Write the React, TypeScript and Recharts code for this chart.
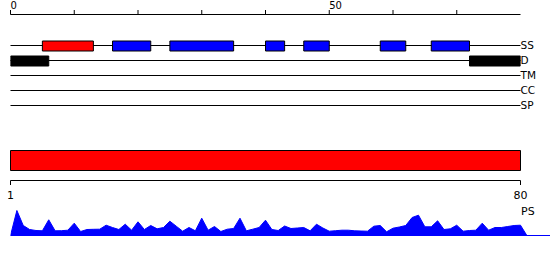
import React from 'react';
import { ComposedChart, BarChart, AreaChart, Bar, Area, XAxis, YAxis, ReferenceLine, Cell, Customized } from 'recharts';

const trackNames = ['SS', 'D', 'TM', 'CC', 'SP'];
const ssStarts = [5, 16, 25, 40, 46, 58, 66];
const ssEnds = [13, 22, 35, 43, 50, 62, 72];
const ssKinds = ['helix', 'strand', 'strand', 'strand', 'strand', 'strand', 'strand'];
const ssColors: Record<string, string> = { helix: '#ff0000', strand: '#0000ff' };
const disorderStarts = [0, 72];
const disorderEnds = [6, 80];
const disorderColor = '#000000';
const topTicks = [0, 10, 20, 30, 40, 50, 60, 70];
const topLabelled = [0, 50];
const seqStart = 1;
const seqEnd = 80;
const bottomTicks = [1, 80];
const psLabel = 'PS';
const psValues = [
  0, 25, 10, 6, 5, 4.7, 15.7, 4.7, 4.8, 5.3,
  12.3, 4, 6, 6.2, 6.3, 10.3, 8, 6, 11.3, 5.3,
  13.7, 6, 10, 6.7, 8, 14.3, 9.3, 4.3, 8, 4.7,
  17.3, 5.3, 9, 4, 6.3, 7, 17.3, 4.7, 6.3, 8,
  15.3, 6, 5, 9.5, 7, 7.5, 8, 4.7, 11.3, 7.5,
  4.3, 4.8, 5.3, 5.3, 4.7, 4.5, 4.3, 9.3, 10, 3.7,
  7.3, 8.5, 10, 18, 20.3, 8.7, 8.7, 14.7, 6, 6.7,
  10.3, 4.3, 5, 5.3, 12.3, 5.3, 8, 8, 9, 10,
  10.3, 0,
];

const FONT = 'DejaVu Sans, Verdana, sans-serif';
const MAXSEG = 7;

function buildRow(name: string, starts: number[], ends: number[], colors: string[]) {
  const row: any = { track: name };
  let pos = 0;
  for (let k = 0; k < MAXSEG; k++) {
    if (k < starts.length) {
      row['g' + k] = starts[k] - pos;
      row['s' + k] = ends[k] - starts[k];
      row['c' + k] = colors[k];
      pos = ends[k];
    } else {
      row['g' + k] = 0;
      row['s' + k] = 0;
      row['c' + k] = 'none';
    }
  }
  return row;
}

const trackRows = trackNames.map((name) => {
  if (name === 'SS') return buildRow(name, ssStarts, ssEnds, ssKinds.map((k) => ssColors[k]));
  if (name === 'D') return buildRow(name, disorderStarts, disorderEnds, disorderStarts.map(() => disorderColor));
  return buildRow(name, [], [], []);
});

const seqRows = [{ name: 'sequence', range: [seqStart, seqEnd] }];
const psData = psValues.map((v, i) => ({ pos: i, ps: v }));

const TopTick = (props: any) => {
  const { x, y, payload } = props;
  if (!topLabelled.includes(payload.value)) return null;
  return (
    <text x={x} y={y - 1} textAnchor="start" fontSize={10} fontFamily={FONT} fill="#000">
      {payload.value}
    </text>
  );
};

const TrackTick = (props: any) => {
  const { x, y, payload } = props;
  return (
    <text x={x} y={y} dy="0.36em" textAnchor="start" fontSize={10.5} fontFamily={FONT} fill="#000">
      {payload.value}
    </text>
  );
};

const segIdx = Array.from({ length: MAXSEG }, (_, k) => k);

export default function App() {
  return (
    <div style={{ position: 'absolute', left: 0, top: 0, width: 550, height: 260, background: '#fff' }}>
      <div style={{ position: 'absolute', left: 0, top: 0 }}>
        <ComposedChart
          layout="vertical"
          width={550}
          height={114}
          data={trackRows}
          margin={{ top: 0, right: 0, bottom: 1, left: 10.5 }}
        >
          <XAxis
            type="number"
            orientation="top"
            domain={[0, 80]}
            ticks={topTicks}
            interval={0}
            height={14.5}
            tickSize={4.5}
            tickMargin={0}
            stroke="#000"
            tick={<TopTick />}
            allowDataOverflow
          />
          <YAxis
            type="category"
            dataKey="track"
            orientation="right"
            width={29.5}
            axisLine={false}
            tickLine={false}
            tickSize={0}
            tickMargin={0}
            interval={0}
            padding={{ top: 23.5, bottom: 0 }}
            tick={<TrackTick />}
          />
          {trackNames.map((t) => (
            <ReferenceLine key={t} y={t} stroke="#000" strokeWidth={1} zIndex={-10} />
          ))}
          {segIdx.map((k) => [
            <Bar key={'g' + k} dataKey={'g' + k} stackId="t" barSize={10} fill="none" stroke="none" isAnimationActive={false} />,
            <Bar key={'s' + k} dataKey={'s' + k} stackId="t" barSize={10} stroke="#000" strokeWidth={1} isAnimationActive={false}>
              {trackRows.map((r, i) => (
                <Cell key={i} fill={r['c' + k]} />
              ))}
            </Bar>,
          ])}
        </ComposedChart>
      </div>
      <div style={{ position: 'absolute', left: 0, top: 140 }}>
        <BarChart
          layout="vertical"
          width={550}
          height={66}
          data={seqRows}
          margin={{ top: 0.5, right: 29.5, bottom: 0, left: 10.5 }}
        >
          <XAxis
            type="number"
            domain={[seqStart, seqEnd]}
            ticks={bottomTicks}
            interval={0}
            height={25.5}
            tickSize={4.5}
            tickMargin={6}
            stroke="#000"
            tick={{ fontSize: 11, fill: '#000', fontFamily: FONT }}
          />
          <YAxis type="category" dataKey="name" hide />
          <Bar dataKey="range" barSize={20} fill="#ff0000" stroke="#000" strokeWidth={1} isAnimationActive={false} />
        </BarChart>
      </div>
      <div style={{ position: 'absolute', left: 0, top: 200 }}>
        <AreaChart
          width={550}
          height={40}
          data={psData}
          margin={{ top: 5.5, right: 0, bottom: 4.5, left: 10.5 }}
        >
          <XAxis type="number" dataKey="pos" domain={[0, 84.63]} allowDataOverflow hide />
          <YAxis type="number" domain={[0, 30]} allowDataOverflow hide />
          <ReferenceLine y={0} stroke="#0000ff" strokeWidth={1} />
          <Area
            type="linear"
            dataKey="ps"
            stroke="#0000ff"
            strokeWidth={1}
            fill="#0000ff"
            fillOpacity={1}
            dot={false}
            activeDot={false}
            isAnimationActive={false}
          />
          <Customized
            component={() => (
              <text x={521} y={15} fontSize={11} fontFamily={FONT} fill="#000">
                {psLabel}
              </text>
            )}
          />
        </AreaChart>
      </div>
    </div>
  );
}
